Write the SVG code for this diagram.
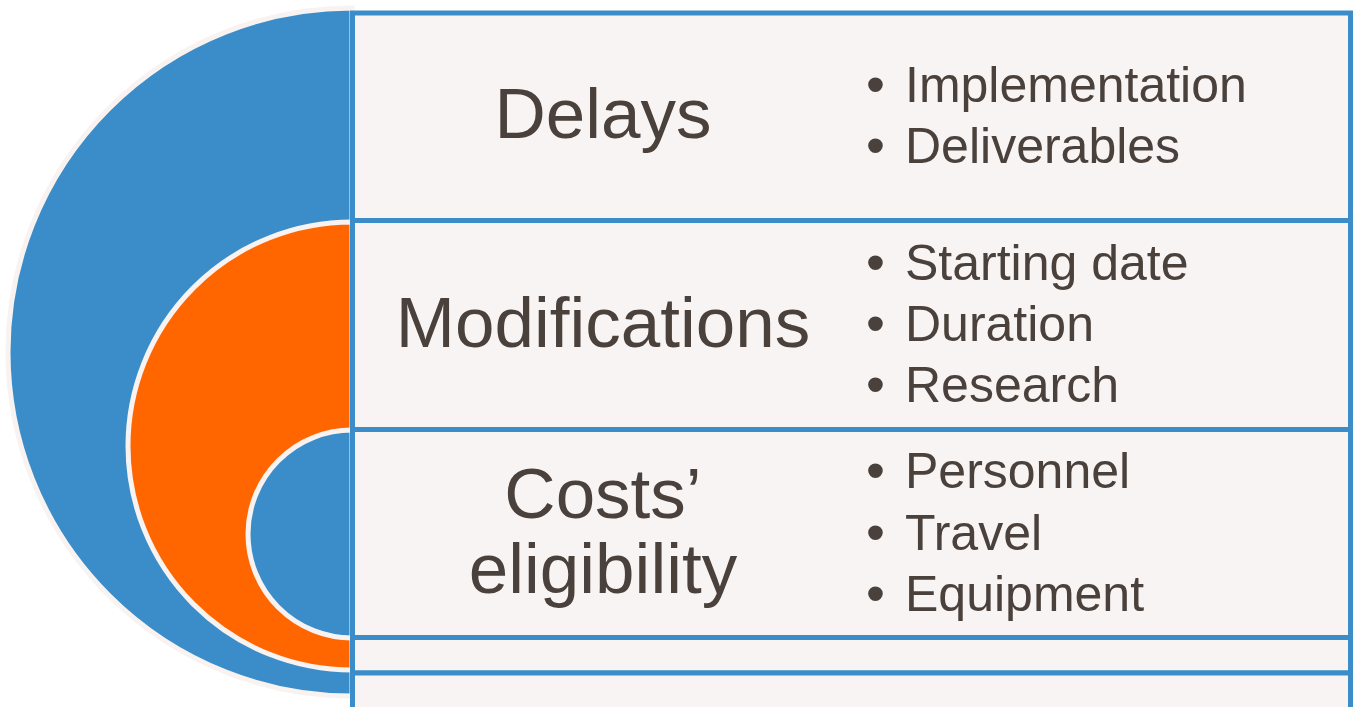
<svg xmlns="http://www.w3.org/2000/svg" width="1355" height="707" viewBox="0 0 1355 707">
<style>
.arc{stroke:#f8f2f0;stroke-width:5}
.blue{fill:#3a8dc8}
.orange{fill:#ff6600}
.box{fill:#f8f4f3;stroke:#3a8dc8;stroke-width:5}
.title{font-family:"Liberation Sans",Arial,sans-serif;font-size:71px;fill:#4a413c;text-anchor:middle}
.item{font-family:"Liberation Sans",Arial,sans-serif;font-size:50px;fill:#4a413c}
.bul{font-family:"Liberation Sans",Arial,sans-serif;font-size:54px;fill:#4a413c}
</style>
<rect width="1355" height="707" fill="#ffffff"/>
<g id="arcs">
<path class="arc blue" d="M352,8 A344,344 0 0 0 352,696 Z"/>
<path class="arc orange" d="M352,222 A224,224 0 0 0 352,670 Z"/>
<path class="arc blue" d="M352,430 A104,104 0 0 0 352,638 Z"/>
</g>
<g id="box-delays">
<rect class="box" x="352.5" y="13" width="998" height="207.5"/>
<text class="title" x="603" y="138">Delays</text>
<text class="bul" x="866" y="103">•</text>
<text class="item" x="905" y="102">Implementation</text>
<text class="bul" x="866" y="164">•</text>
<text class="item" x="905" y="163">Deliverables</text>
</g>
<g id="box-modifications">
<rect class="box" x="352.5" y="220.5" width="998" height="209"/>
<text class="title" x="603" y="347">Modifications</text>
<text class="bul" x="866" y="281">•</text>
<text class="item" x="905" y="280">Starting date</text>
<text class="bul" x="866" y="342">•</text>
<text class="item" x="905" y="341">Duration</text>
<text class="bul" x="866" y="403">•</text>
<text class="item" x="905" y="402">Research</text>
</g>
<g id="box-costs">
<rect class="box" x="352.5" y="429.5" width="998" height="208"/>
<text class="title" x="603" y="518">Costs’</text>
<text class="title" x="603" y="593">eligibility</text>
<text class="bul" x="866" y="489">•</text>
<text class="item" x="905" y="488">Personnel</text>
<text class="bul" x="866" y="551">•</text>
<text class="item" x="905" y="550">Travel</text>
<text class="bul" x="866" y="612">•</text>
<text class="item" x="905" y="611">Equipment</text>
</g>
<g id="box-empty-1">
<rect class="box" x="352.5" y="637.5" width="998" height="35.5"/>
</g>
<g id="box-empty-2">
<rect class="box" x="352.5" y="673" width="998" height="38"/>
</g>
</svg>
